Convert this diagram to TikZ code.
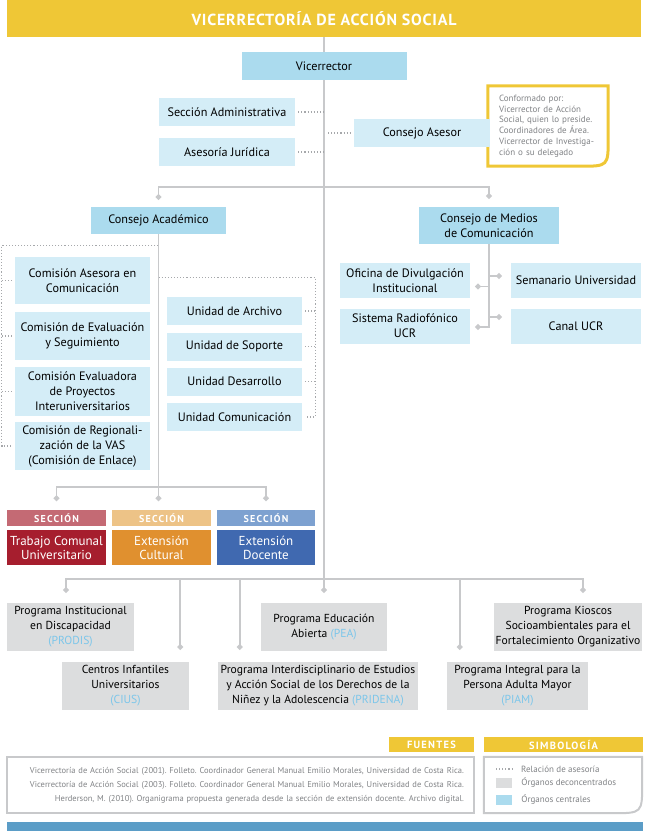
\documentclass[tikz,border=0pt]{standalone}
\usepackage{fontspec}
\setmainfont{PT Sans}
\usetikzlibrary{arrows.meta,positioning,backgrounds}
\frenchspacing

\definecolor{amarillo}{HTML}{EFC736}
\definecolor{azulc}{HTML}{ABDBEE}
\definecolor{azull}{HTML}{D4EDF7}
\definecolor{grisp}{HTML}{DCDDDE}
\definecolor{grisl}{HTML}{C8C9CB}
\definecolor{grisd}{HTML}{A6A8AB}
\definecolor{grist}{HTML}{808285}
\definecolor{sigla}{HTML}{7CC6EA}
\definecolor{rojoc}{HTML}{C46A74}
\definecolor{rojo}{HTML}{A61E2E}
\definecolor{naranjac}{HTML}{EDC387}
\definecolor{naranja}{HTML}{E0902F}
\definecolor{azsc}{HTML}{7DA1D0}
\definecolor{azs}{HTML}{4069B0}
\definecolor{azpie}{HTML}{5B9DC7}

\newcommand{\sig}[1]{\textcolor{sigla}{#1}}
\newcommand{\espaciado}{\addfontfeature{LetterSpace=12}}

\begin{document}
\begin{tikzpicture}[x=1pt, y=-1pt,
    central/.style={fill=azulc, align=center, inner sep=0pt, font=\fontsize{12.2}{15}\selectfont},
    organo/.style={central, fill=azull},
    programa/.style={central, fill=grisp, minimum height=48pt, font=\fontsize{11.6}{15}\selectfont},
    cabecera/.style={fill=#1, text=white, inner sep=0pt, minimum height=16pt, font=\fontsize{10}{12}\selectfont\bfseries\espaciado},
    seccion/.style={fill=#1, text=white, align=center, inner sep=0pt, minimum height=35pt, font=\fontsize{13}{14}\selectfont},
    link/.style={draw=grisl, line width=1.8pt},
    punto/.style={link, -{Circle[length=5.5pt]}},
    asesoria/.style={draw=grisd, line width=1.1pt, dash pattern=on 1.1pt off 2pt},
    leyenda/.style={text=grist, inner sep=0pt, anchor=west, font=\fontsize{9}{11}\selectfont}]
  \useasboundingbox (0,0) rectangle (648,831);

  % encabezado
  \node[fill=amarillo, text=white, minimum width=634pt, minimum height=37pt, inner sep=0pt,
        font=\fontsize{16}{18}\selectfont\bfseries\addfontfeature{LetterSpace=5}] (tit) at (324,18.5) {VICERRECTORÍA DE ACCIÓN SOCIAL};

  \node[central, minimum width=165pt, minimum height=28pt] (vic) at (324,66) {Vicerrector};
  \node[organo, minimum width=136pt, minimum height=28pt] (adm) at (227,112) {Sección Administrativa};
  \node[organo, minimum width=136pt, minimum height=28pt] (jur) at (227,152) {Asesoría Jurídica};

  % nota del consejo asesor
  \node[text=grist, align=left, text width=98pt, inner xsep=11pt, inner ysep=0pt, minimum height=80pt,
        font=\fontsize{9}{10.8}\selectfont] (nota) at (548,126)
    {Conformado por:\\Vicerrector de Acción\\Social, quien lo preside.\\Coordinadores de Área.\\Vicerrector de Investiga-\\ción o su delegado};
  \draw[amarillo, line width=3pt] (nota.south west) -- (nota.north west) -- (nota.north east)
    -- ([yshift=28pt]nota.south east) .. controls (nota.south east) .. ([xshift=-28pt]nota.south east) -- cycle;
  \node[organo, minimum width=136pt, minimum height=28pt] (cas) at (422,133) {Consejo Asesor};

  % consejos
  \node[central, minimum width=135pt, minimum height=27pt] (acad) at (158.5,220.5) {Consejo Académico};
  \node[central, minimum width=140pt, minimum height=37pt] (med) at (489,225.5) {Consejo de Medios\\de Comunicación};

  % comisiones
  \node[organo, minimum width=135pt, minimum height=47pt] (com1) at (82.5,280.5) {Comisión Asesora en\\Comunicación};
  \node[organo, minimum width=135pt, minimum height=48pt] (com2) at (82.5,336) {Comisión de Evaluación\\y Seguimiento};
  \node[organo, minimum width=135pt, minimum height=49pt] (com3) at (82.5,391.5) {Comisión Evaluadora\\de Proyectos\\Interuniversitarios};
  \node[organo, minimum width=135pt, minimum height=48pt] (com4) at (82.5,446) {Comisión de Regionali-\\zación de la VAS\\(Comisión de Enlace)};

  % unidades
  \node[organo, minimum width=135pt, minimum height=28pt] (una) at (234.5,311) {Unidad de Archivo};
  \node[organo, minimum width=135pt, minimum height=28pt] (uns) at (234.5,346.5) {Unidad de Soporte};
  \node[organo, minimum width=135pt, minimum height=28pt] (und) at (234.5,381.5) {Unidad Desarrollo};
  \node[organo, minimum width=135pt, minimum height=28pt] (unc) at (234.5,417) {Unidad Comunicación};

  % medios
  \node[organo, minimum width=130pt, minimum height=35pt] (ofi) at (405,280.5) {Oficina de Divulgación\\Institucional};
  \node[organo, minimum width=130pt, minimum height=35pt] (sis) at (405,326) {Sistema Radiofónico\\UCR};
  \node[organo, minimum width=130pt, minimum height=35pt] (sem) at (576,280.5) {Semanario Universidad};
  \node[organo, minimum width=130pt, minimum height=35pt] (can) at (576,326) {Canal UCR};

  % secciones
  \node[cabecera=rojoc, minimum width=99pt] (sc1) at (56.5,518) {SECCIÓN};
  \node[cabecera=naranjac, minimum width=99pt] (sc2) at (161.5,518) {SECCIÓN};
  \node[cabecera=azsc, minimum width=98pt] (sc3) at (266,518) {SECCIÓN};
  \node[seccion=rojo, minimum width=99pt] (tcu) at (56.5,547.5) {Trabajo Comunal\\Universitario};
  \node[seccion=naranja, minimum width=99pt] (ecu) at (161.5,547.5) {Extensión\\Cultural};
  \node[seccion=azs, minimum width=98pt] (edo) at (266,547.5) {Extensión\\Docente};

  % programas
  \node[programa, minimum width=127pt] (prodis) at (70.5,627) {Programa Institucional\\en Discapacidad\\\sig{(PRODIS)}};
  \node[programa, minimum width=126pt] (pea) at (324,627) {Programa Educación\\Abierta \sig{(PEA)}};
  \node[programa, minimum width=148pt] (kio) at (568,627) {Programa Kioscos\\Socioambientales para el\\Fortalecimiento Organizativo};
  \node[programa, minimum width=127pt] (cius) at (125.5,686) {Centros Infantiles\\Universitarios\\\sig{(CIUS)}};
  \node[programa, minimum width=200pt] (pri) at (318,686) {Programa Interdisciplinario de Estudios\\y Acción Social de los Derechos de la\\Niñez y la Adolescencia \sig{(PRIDENA)}};
  \node[programa, minimum width=141pt] (piam) at (517.5,686) {Programa Integral para la\\Persona Adulta Mayor\\\sig{(PIAM)}};

  % fuentes y simbologia
  \node[cabecera=amarillo, minimum width=85pt, minimum height=15pt, font=\fontsize{10.5}{12}\selectfont\bfseries\espaciado] (fue) at (431.5,744.5) {FUENTES};
  \node[cabecera=amarillo, minimum width=159pt, minimum height=15pt, font=\fontsize{10.5}{12}\selectfont\bfseries\espaciado] (sim) at (563.5,744.5) {SIMBOLOGÍA};
  \node[draw=grisl, line width=2pt, text=grist, align=right, text width=447pt, inner xsep=10pt, inner ysep=0pt, minimum height=56pt,
        font=\fontsize{8.5}{14}\selectfont] (ref) at (240.5,785)
    {Vicerrectoría de Acción Social (2001). Folleto. Coordinador General Manual Emilio Morales, Universidad de Costa Rica.\\
     Vicerrectoría de Acción Social (2003). Folleto. Coordinador General Manual Emilio Morales, Universidad de Costa Rica.\\
     Herderson, M. (2010). Organigrama propuesta generada desde la sección de extensión docente. Archivo digital.};
  \node[minimum width=158pt, minimum height=56pt, inner sep=0pt] (simb) at (563,785) {};
  \draw[grisl, line width=2pt] (simb.south west) -- (simb.north west) -- (simb.north east)
    -- ([yshift=30pt]simb.south east) .. controls (simb.south east) .. ([xshift=-30pt]simb.south east) -- cycle;
  \coordinate (lg1) at (496,769);
  \draw[asesoria] (lg1) -- ++(16,0);
  \node[leyenda] (tl1) at (521,769) {Relación de asesoría};
  \node[fill=grisp, minimum width=16pt, minimum height=10pt, inner sep=0pt] (lg2) at (504,782.5) {};
  \node[leyenda, right=9pt of lg2] (tl2) {Órganos deconcentrados};
  \node[fill=azulc, minimum width=16pt, minimum height=10pt, inner sep=0pt] (lg3) at (504,799.5) {};
  \node[leyenda, right=9pt of lg3] (tl3) {Órganos centrales};

  \node[fill=azpie, minimum width=636pt, minimum height=9pt, inner sep=0pt] (pie) at (325,826.5) {};

  % conectores
  \begin{scope}[on background layer]
    \coordinate (rama) at (324,187);
    \coordinate (sbus) at (158.5,487);
    \coordinate (sdots) at (0,501);
    \coordinate (pbus) at (324,579);
    \draw[punto] (tit.south -| vic.north) -- ([yshift=10pt]pea.north);
    \draw[punto] (rama) -| ([yshift=7pt]acad.north);
    \draw[punto] (rama) -| ([yshift=8pt]med.north);
    \draw[asesoria] ([xshift=3pt]adm.east) -- (adm.east -| vic.south);
    \draw[asesoria] ([xshift=3pt]jur.east) -- (jur.east -| vic.south);
    \draw[asesoria] ([xshift=4pt]cas.west -| vic.south) -- ([xshift=-3pt]cas.west);

    \draw[asesoria] ([yshift=-11pt]acad.south) -| ([xshift=-13pt]com4.west) -- ([xshift=-3pt]com4.west);
    \foreach \c in {com1,com2,com3}
      \draw[asesoria] ([xshift=-13pt]\c.west) -- ([xshift=-3pt]\c.west);
    \draw[asesoria] ([yshift=-43pt]acad.south) -| ([xshift=13pt]unc.east) -- ([xshift=3pt]unc.east);
    \foreach \u in {una,uns,und}
      \draw[asesoria] ([xshift=13pt]\u.east) -- ([xshift=3pt]\u.east);

    \draw[link] (acad.south) -- (sbus);
    \draw[punto] (sbus) -| (sc1.north |- sdots);
    \draw[punto] (sbus) -- (sbus |- sdots);
    \draw[punto] (sbus) -| (sc3.north |- sdots);

    \draw[punto] (med.south) |- ([xshift=-9pt,yshift=4.5pt]sem.west);
    \draw[punto] (med.south) |- ([xshift=5pt,yshift=-6pt]ofi.east);
    \draw[punto] (med.south) |- ([xshift=-9pt,yshift=9pt]can.west);
    \draw[punto] (med.south) |- ([xshift=5pt,yshift=-1pt]sis.east);

    \draw[punto] (pbus) -| ([xshift=-4.5pt,yshift=10pt]prodis.north);
    \draw[punto] (pbus) -| ([xshift=-9pt,yshift=12pt]cius.north east);
    \draw[punto] (pbus) -| ([xshift=22pt,yshift=12pt]pri.north west);
    \draw[punto] (pbus) -| ([xshift=13pt,yshift=12pt]piam.north west);
    \draw[punto] (pbus) -| ([xshift=15pt,yshift=10pt]kio.north);
  \end{scope}
\end{tikzpicture}
\end{document}
